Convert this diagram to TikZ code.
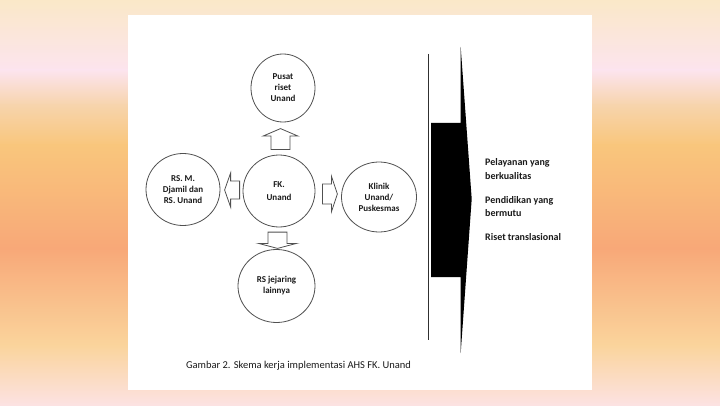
\documentclass[tikz,border=0pt]{standalone}
\usepackage{fontspec}
\setmainfont{Carlito}
\usetikzlibrary{shapes.geometric,calc}
\definecolor{bgA}{HTML}{FAE8C8}
\definecolor{bgB}{HTML}{FCE4EE}
\definecolor{bgC}{HTML}{F7D4AC}
\definecolor{bgD}{HTML}{F9C67C}
\definecolor{bgE}{HTML}{F8A878}
\definecolor{bgF}{HTML}{FAD49C}
\definecolor{bgG}{HTML}{FCE2E2}
\definecolor{cline}{HTML}{505050}
\definecolor{txt}{HTML}{1A1A1A}
\tikzset{
  circ/.style={ellipse, draw=cline, line width=0.8pt, fill=white, inner sep=0pt,
    align=center, text=txt, font=\bfseries\fontsize{9}{11}\selectfont},
  barrowst/.style={draw=cline, line width=0.8pt, fill=white, line join=miter},
  lbl/.style={font=\bfseries\fontsize{10}{13.5}\selectfont, align=left, text=txt, inner sep=0pt, anchor=west},
  captionst/.style={font=\fontsize{10.5}{12}\selectfont, text=txt, inner sep=0pt},
}
\newcommand\blockarr[6]{%
  \begin{scope}[shift={(#1)}, rotate=#2]
    \draw[barrowst] (0,-#4) -- ({#3-#6},-#4) -- ({#3-#6},-#5) -- (#3,0)
      -- ({#3-#6},#5) -- ({#3-#6},#4) -- (0,#4) -- cycle;
  \end{scope}}
\begin{document}
\begin{tikzpicture}[x=1pt,y=1pt]
\useasboundingbox (0,0) rectangle (720,405);
% background gradient
\shade[top color=bgA, bottom color=bgB] (0,405) rectangle (720,334.5);
\shade[top color=bgB, bottom color=bgC] (0,335) rectangle (720,299.5);
\shade[top color=bgC, bottom color=bgD] (0,300) rectangle (720,259.5);
\shade[top color=bgD, bottom color=bgE] (0,260) rectangle (720,156.5);
\shade[top color=bgE, bottom color=bgF] (0,157) rectangle (720,59.5);
\shade[top color=bgF, bottom color=bgG] (0,60) rectangle (720,0);
% white panel
\fill[white] (128,15) rectangle (592,390);
% circles
\node[circ, minimum width=64pt, minimum height=68pt] (top) at (283,317) {Pusat\\riset\\Unand};
\node[circ, minimum width=72pt, minimum height=72pt, font=\bfseries\fontsize{9}{13}\selectfont] (fk) at (279,214) {FK.\\Unand};
\node[circ, minimum width=74pt, minimum height=72pt] (left) at (183,215.5) {RS. M.\\Djamil dan\\RS. Unand};
\node[circ, minimum width=75pt, minimum height=70pt] (right) at (379,208) {Klinik\\Unand/\\Puskesmas};
\node[circ, minimum width=77pt, minimum height=73pt] (bottom) at (276.5,119) {RS jejaring\\lainnya};
% block arrows
\blockarr{$(fk.north)+(1.5,5)$}{90}{21}{9.5}{17.5}{7.5}
\blockarr{$(fk.south)+(-1.5,-4.7)$}{-90}{16.3}{9.5}{19}{5}
\blockarr{$(fk.west)+(-3,1)$}{180}{15}{9}{17}{6}
\blockarr{$(fk.east)+(7,-3)$}{0}{15}{10}{18}{6}
% right section
\draw[cline!60!black, line width=1pt] (428.3,351) -- (428.3,65);
\fill[black] (431,282) -- (460.7,282) -- (460.7,358) -- (471.7,206) -- (460.7,52)
  -- (460.7,128) -- (431,128) -- cycle;
\node[lbl] (t1) at (485,236) {Pelayanan yang\\berkualitas};
\node[lbl] (t2) at (485,198.5) {Pendidikan yang\\bermutu};
\node[lbl] (t3) at (485,168.3) {Riset translasional};
% caption
\node[captionst] (cap) at (298.5,39.3) {Gambar 2. Skema kerja implementasi AHS FK. Unand};
\end{tikzpicture}
\end{document}
